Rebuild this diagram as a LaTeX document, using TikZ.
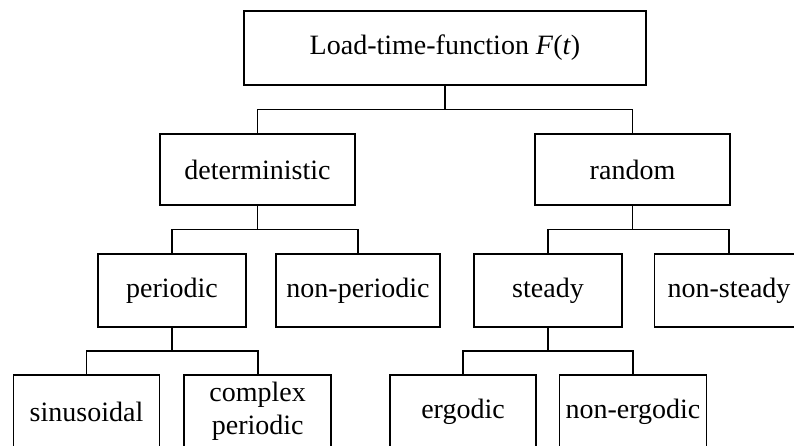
\documentclass[tikz,border=0pt]{standalone}
\usepackage{fontspec}
\setmainfont{Liberation Serif}
\usetikzlibrary{calc}
\begin{document}
\begin{tikzpicture}[x=1pt,y=-1pt,
  box/.style={draw=black, line width=1.9pt, rectangle, inner sep=0pt, align=center,
    font=\fontsize{28}{33}\selectfont, minimum height=72pt},
  link/.style={draw=black, line width=1.9pt}]
\useasboundingbox (0,0) rectangle (794,446);
\clip (0,0) rectangle (794,446);
\node[box, minimum width=402pt, minimum height=74pt] (top) at (445,48) {Load-time-function \textit{F}(\textit{t})};
\node[box, minimum width=195pt, minimum height=71pt] (det) at (257.5,169.5) {deterministic};
\node[box, minimum width=195pt, minimum height=71pt] (rnd) at (632.5,169.5) {random};
\node[box, minimum width=148pt, minimum height=73pt] (per) at (172,290.5) {periodic};
\node[box, minimum width=164pt, minimum height=73pt] (nper) at (358,290.5) {non-periodic};
\node[box, minimum width=148pt, minimum height=73pt] (std) at (548,290.5) {steady};
\node[box, minimum width=149pt, minimum height=73pt] (nstd) at (729,290.5) {non-steady};
\node[box, minimum width=146pt, minimum height=73pt] (sin) at (86.5,411.5) {sinusoidal};
\node[box, minimum width=147pt, minimum height=73pt] (cper) at (257.7,411.5) {complex\\periodic};
\node[box, minimum width=146pt, minimum height=73pt] (erg) at (463,411.5) {ergodic};
\node[box, minimum width=147pt, minimum height=73pt] (nerg) at (633,411.5) {non-ergodic};
\foreach \p/\c in {top/det, top/rnd, det/per, det/nper, rnd/std, rnd/nstd, per/sin, per/cper, std/erg, std/nerg}{
  \draw[link] (\c.north) |- ($(\p.south)!0.5!(\c.north)$) -| (\p.south);
}
\end{tikzpicture}
\end{document}
